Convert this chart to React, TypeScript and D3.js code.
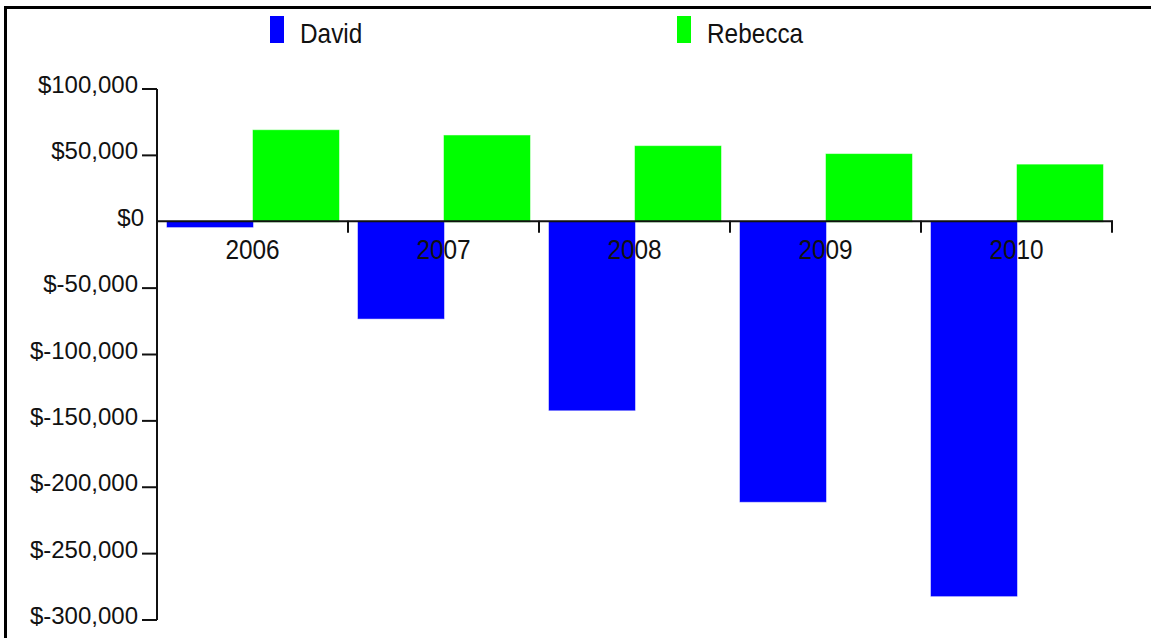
import React from "react";
import * as d3 from "d3";

// chart data
const years = ["2006", "2007", "2008", "2009", "2010"];
const seriesNames = ["David", "Rebecca"];
const david = [-4000, -73000, -142000, -211000, -282000];
const rebecca = [69000, 65000, 57000, 51000, 43000];
const yTicks = [100000, 50000, 0, -50000, -100000, -150000, -200000, -250000, -300000];
const colors = ["#0000ff", "#00ff00"];

const W = 1151,
  H = 638;
const plot = { left: 157, right: 1112, top: 89, bottom: 620 };

const x0 = d3.scaleBand().domain(years).range([plot.left, plot.right]);
const x1 = d3
  .scaleBand()
  .domain(seriesNames)
  .range([10, x0.bandwidth() - 9]);
const y = d3.scaleLinear().domain([-300000, 100000]).range([plot.bottom, plot.top]);

// plain hyphen for negatives, like the original
const num = d3.formatLocale({ decimal: ".", thousands: ",", grouping: [3], currency: ["$", ""], minus: "-" }).format(",");
const fmt = (v: number) => "$" + num(v);

export default function App() {
  const series = [david, rebecca];
  const zero = y(0);
  return (
    <svg
      width={W}
      height={H}
      style={{ position: "absolute", left: 0, top: 0, background: "#fff" }}
      fontFamily="'Liberation Sans', Arial, sans-serif"
    >
      {/* frame */}
      <line x1={5.5} x2={5.5} y1={6} y2={H} stroke="#000" strokeWidth={3} />
      <line x1={4} x2={W} y1={7.5} y2={7.5} stroke="#000" strokeWidth={3} />

      {/* legend */}
      {seriesNames.map((name, i) => {
        const lx = [270, 677][i];
        return (
          <g key={name}>
            <rect x={lx} y={16} width={14} height={27} fill={colors[i]} />
            <text
              transform={`translate(${lx + 30},43) scale(0.87,1)`}
              fontSize={28}
              fill="#111"
            >
              {name}
            </text>
          </g>
        );
      })}

      {/* bars */}
      {years.map((yr, i) => (
        <g key={yr} transform={`translate(${x0(yr)},0)`}>
          {series.map((s, j) => {
            const v = s[i];
            return (
              <rect
                key={j}
                x={x1(seriesNames[j])}
                width={x1.bandwidth()}
                y={Math.min(y(v), zero)}
                height={Math.abs(y(v) - zero)}
                fill={colors[j]}
                stroke={colors[j]}
                strokeOpacity={0.5}
                strokeWidth={1}
              />
            );
          })}
        </g>
      ))}

      {/* y axis */}
      <line x1={plot.left} x2={plot.left} y1={plot.top} y2={plot.bottom} stroke="#111" strokeWidth={2} />
      {yTicks.map((t) => (
        <g key={t}>
          {t !== 0 && (
            <line x1={plot.left - 15} x2={plot.left} y1={y(t)} y2={y(t)} stroke="#111" strokeWidth={2} />
          )}
          <text
            x={t === 0 ? plot.left - 13 : plot.left - 19}
            y={y(t) + 4}
            textAnchor="end"
            fontSize={24}
            fill="#111"
          >
            {fmt(t)}
          </text>
        </g>
      ))}

      {/* x axis */}
      <line x1={plot.left} x2={plot.right + 1} y1={zero - 0.5} y2={zero - 0.5} stroke="#111" strokeWidth={2} />
      {years.map((yr) => {
        const bx = (x0(yr) as number) + x0.bandwidth();
        const cx = (x0(yr) as number) + x0.bandwidth() / 2;
        return (
          <g key={yr}>
            <line x1={bx} x2={bx} y1={zero - 1} y2={zero + 11} stroke="#111" strokeWidth={2} />
            <text
              transform={`translate(${cx},${zero + 37}) scale(0.87,1)`}
              textAnchor="middle"
              fontSize={28}
              fill="#111"
            >
              {yr}
            </text>
          </g>
        );
      })}
    </svg>
  );
}
